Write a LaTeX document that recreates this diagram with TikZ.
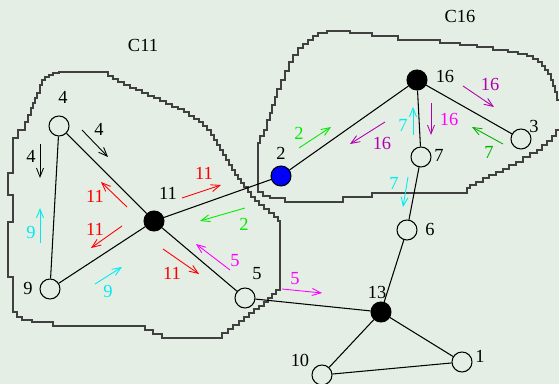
\documentclass[tikz,border=0pt]{standalone}
\usepackage{fontspec}
\setmainfont{Liberation Serif}
\usepackage{xcolor}
\usetikzlibrary{arrows.meta, positioning}

\definecolor{bgcol}{RGB}{229,238,229}
\definecolor{msgred}{RGB}{255,0,0}
\definecolor{msggreen}{RGB}{0,235,0}
\definecolor{msgdgreen}{RGB}{0,176,0}
\definecolor{msgcyan}{RGB}{0,235,240}
\definecolor{msgmag}{RGB}{255,0,255}
\definecolor{msgpur}{RGB}{176,0,176}

\begin{document}
\begin{tikzpicture}[x=0.02cm, y=-0.02cm, font=\fontsize{10.5}{12}\selectfont,
    vertex/.style={circle, draw, minimum size=0.4cm, inner sep=0pt, line width=0.6pt},
    hub/.style={vertex, fill=black},
    msg/.style={-{Straight Barb[length=5pt,width=4pt]}, line width=0.5pt},
    region/.style={draw=black!75, line width=0.8pt}]
    \useasboundingbox (0,0) rectangle (559,384);
    \fill[bgcol] (0,0) rectangle (559,384);
    % cluster C11
    \draw[region] (65,72) -- (103,72)
        -| (108,76) -| (113,79) -| (118,82) -| (124,85) -| (130,88) -| (136,90)
        -| (142,93) -| (148,96) -| (154,98) -| (160,101) -| (166,104) -| (172,107)
        -| (178,109) -| (184,112) -| (189,116) -| (194,119) -| (199,122) -| (203,126)
        -| (207,130) -| (211,135) -| (214,140) -| (217,145) -| (220,150) -| (223,155)
        -| (226,160) -| (229,165) -| (232,170) -| (235,175) -| (238,179) -| (241,183)
        -| (244,187) -| (248,192) -| (251,197) -| (255,201) -| (259,205) -| (264,209)
        -| (269,213) -| (274,217) -| (278,221) -| (280,226) -- (280,290)
        -| (276,294) -| (272,298) -| (268,302) -| (264,306) -| (259,309) -| (254,313)
        -| (249,317) -| (244,321) -| (239,325) -| (233,329) -| (228,333) -| (222,338)
        -- (172,338) -| (162,334) -| (153,330) -| (145,326) -- (55,326) -| (53,322)
        -| (32,320) -| (22,317) -| (17,312) -| (13,305) -- (13,277) -| (8,275)
        -- (8,222) -| (13,220) -- (13,195) -| (8,193) -- (8,173) -| (13,170) -- (13,148)
        |- (18,138) |- (25,130) |- (28,122) |- (31,115) |- (33,108) |- (35,103)
        |- (37,98) |- (40,93) |- (42,85) |- (45,80) |- (49,77) |- (53,75) |- (59,73)
        |- (65,72) -- cycle;
    % cluster C16
    \draw[region] (327,31) -- (348,31)
        -| (350,33) -| (372,36) -| (398,40) -| (440,43) -| (460,45) -| (477,47)
        -| (493,50) -| (508,52) -| (518,54) -| (527,56) -| (533,59) -| (538,62)
        -| (542,66) -| (545,70) -| (548,74) -| (551,80) -| (553,86) -| (555,92)
        -| (557,100) -| (562,110) -- (562,130)
        -| (556,136) -| (552,141) -| (547,145) -| (542,150) -| (537,153) -| (530,157)
        -| (523,162) -| (516,165) -| (509,169) -| (503,172) -| (496,175) -| (489,178)
        -| (483,182) -| (476,185) -| (470,188) -| (467,193) -- (373,193) -| (372,197)
        -- (345,197) -| (343,202) -- (285,202) -- (285,198) -| (270,196) -| (263,192)
        -| (258,185) -- (258,150)
        |- (260,143) |- (264,136) |- (267,130) |- (270,120) |- (272,113) |- (275,105)
        |- (277,97) |- (281,89) |- (285,80) |- (289,71) |- (293,62) |- (298,55)
        |- (303,48) |- (308,44) |- (313,40) |- (318,36) |- (322,33) -- (327,33) -- cycle;
    \node (c11) at (143,45) {C11};
    \node (c16) at (460,16) {C16};
    % vertices
    \node[vertex] (v4) at (59,126) {};
    \node[vertex] (v9) at (50,289) {};
    \node[hub] (v11) at (154,221) {};
    \node[vertex] (v5) at (245,298) {};
    \node[vertex, fill=blue] (v2) at (281,176) {};
    \node[hub] (v16) at (417,80) {};
    \node[vertex] (v7) at (421,157) {};
    \node[vertex] (v3) at (521,139) {};
    \node[vertex] (v6) at (407,230) {};
    \node[hub] (v13) at (381,312) {};
    \node[vertex] (v10) at (322,375) {};
    \node[vertex] (v1) at (462,362) {};
    \node (l4) at (63,97) {4};
    \node (l9) at (28,288) {9};
    \node (l11) at (168,193) {11};
    \node (l5) at (257,274) {5};
    \node (l2) at (281,153) {2};
    \node (l16) at (445,76) {16};
    \node (l7) at (439,155) {7};
    \node (l3) at (534,126) {3};
    \node (l6) at (430,229) {6};
    \node (l13) at (377,292) {13};
    \node (l10) at (300,360) {10};
    \node (l1) at (480,356) {1};
    \draw[line width=0.6pt]
    (v4) edge (v9)
    (v4) edge (v11)
    (v9) edge (v11)
    (v11) edge (v5)
    (v11) edge (v2)
    (v2) edge (v16)
    (v16) edge (v7)
    (v16) edge (v3)
    (v7) edge (v6)
    (v6) edge (v13)
    (v5) edge (v13)
    (v13) edge (v10)
    (v13) edge (v1)
    (v10) edge (v1);
    % messages in C11
    \draw[msg] (82,130) -- (108,157);
    \node (m4a) at (99,129) {4};
    \draw[msg] (40,144) -- (40,178);
    \node (m4b) at (31,156) {4};
    \draw[msg, msgcyan] (40,243) -- (40,208);
    \node[msgcyan] (m9a) at (31,232) {9};
    \draw[msg, msgcyan] (95,284) -- (122,267);
    \node[msgcyan] (m9b) at (108,291) {9};
    \draw[msg, msgred] (127,207) -- (101,182);
    \node[msgred] (m11a) at (95,196) {11};
    \draw[msg, msgred] (122,226) -- (91,248);
    \node[msgred] (m11b) at (95,229) {11};
    \draw[msg, msgred] (182,198) -- (221,185);
    \node[msgred] (m11c) at (204,173) {11};
    \draw[msg, msgred] (163,249) -- (199,274);
    \node[msgred] (m11d) at (172,273) {11};
    \draw[msg, msggreen] (245,208) -- (200,221);
    \node[msggreen] (m2a) at (244,224) {2};
    \draw[msg, msgmag] (230,270) -- (196,244);
    \node[msgmag] (m5a) at (235,261) {5};
    \draw[msg, msgmag] (282,289) -- (322,293);
    \node[msgmag] (m5b) at (295,279) {5};
    % messages in C16
    \draw[msg, msggreen] (299,148) -- (331,127);
    \node[msggreen] (m2b) at (299,133) {2};
    \draw[msg, msgpur] (385,122) -- (350,144);
    \node[msgpur] (m16a) at (382,143) {16};
    \draw[msg, msgcyan] (413,135) -- (413,107);
    \node[msgcyan] (m7a) at (403,125) {7};
    \draw[msg, msgpur] (431,103) -- (431,135);
    \node[msgmag] (m16b) at (449,119) {16};
    \draw[msg, msgpur] (463,86) -- (494,107);
    \node[msgpur] (m16c) at (490,84) {16};
    \draw[msg, msgdgreen] (503,144) -- (472,127);
    \node[msgdgreen] (m7b) at (489,152) {7};
    \draw[msg, msgcyan] (408,177) -- (403,207);
    \node[msgcyan] (m7c) at (394,183) {7};
\end{tikzpicture}
\end{document}
